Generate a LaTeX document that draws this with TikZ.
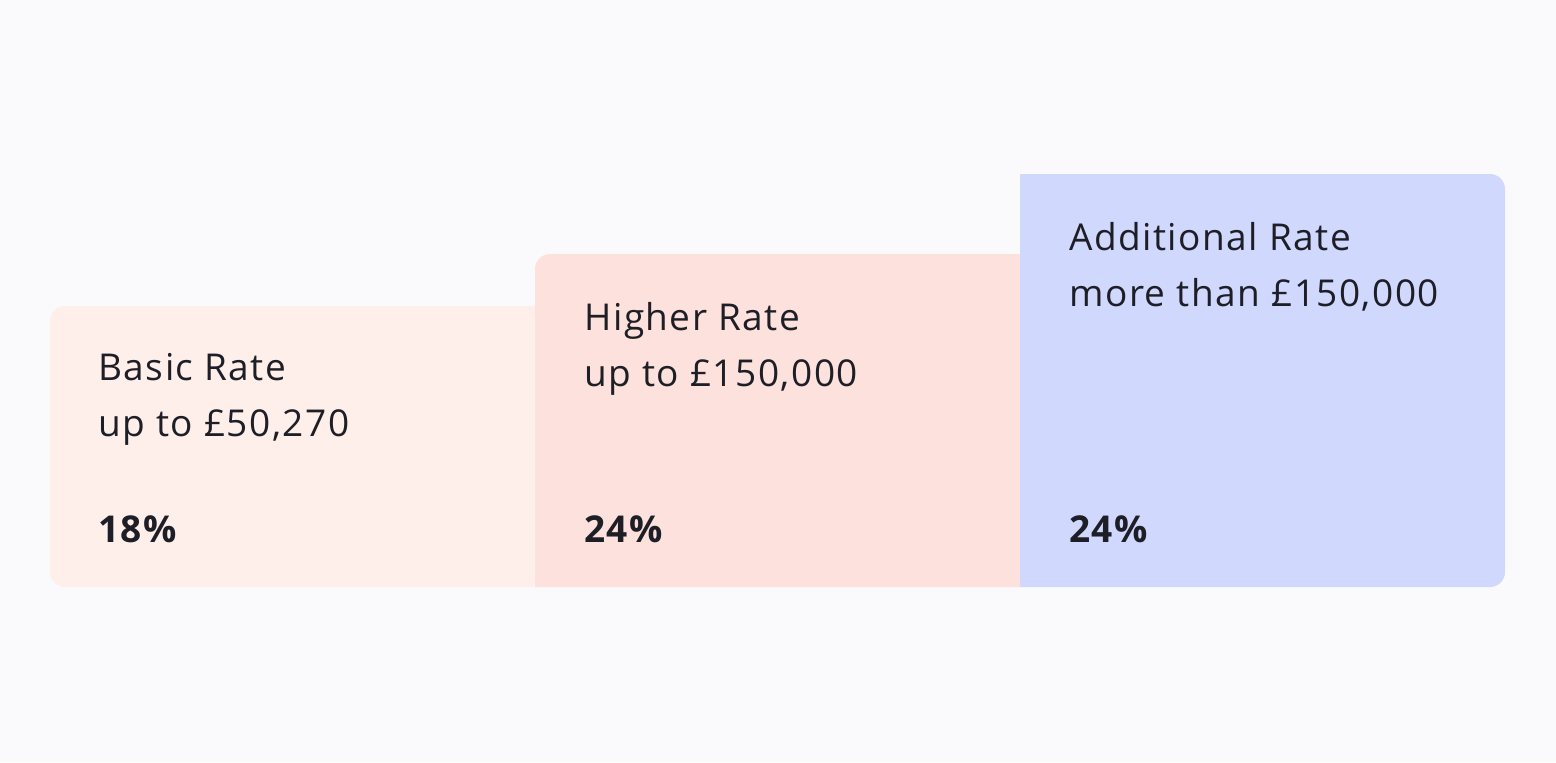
\documentclass[tikz,border=0pt]{standalone}
\usepackage{fontspec}
\setmainfont{Open Sans}[LetterSpace=4]
\usetikzlibrary{positioning}
\definecolor{pagecolor}{RGB}{250, 250, 253}
\definecolor{basiccolor}{RGB}{254, 239, 235}
\definecolor{highercolor}{RGB}{253, 225, 220}
\definecolor{addcolor}{RGB}{208, 216, 254}
\definecolor{inkcolor}{RGB}{30, 30, 38}

\begin{document}
\begin{tikzpicture}[x=0.5pt, y=-0.5pt,
        label text/.style={anchor=base west,
                           inner sep=0pt,
                           text=inkcolor,
                           font=\fontsize{18.5}{28}\selectfont},
        rate text/.style={label text,
                          font=\fontsize{18.5}{28}\selectfont\bfseries}]
        \fill[pagecolor] (0,0) rectangle (1556,762);
        \useasboundingbox (0,0) rectangle (1556,762);
        % bands
        \fill[basiccolor] (535,587) -- (535,306)
              [rounded corners=7.5pt] -- (50,306) -- (50,587)
              [sharp corners] -- cycle;
        \fill[highercolor] (1020,587) -- (1020,254)
              [rounded corners=7.5pt] -- (535,254)
              [sharp corners] -- (535,587) -- cycle;
        \fill[addcolor] (1020,587) -- (1020,174)
              [rounded corners=7.5pt] -- (1505,174) -- (1505,587)
              [sharp corners] -- cycle;
        % labels
        \node[label text] (basic) at (98,380) {Basic Rate};
        \node[label text] (basiclimit) at (98,436) {up to £50,270};
        \node[rate text] (basicrate) at (98,542) {18\%};
        \node[label text] (higher) at (584,330) {Higher Rate};
        \node[label text] (higherlimit) at (584,386) {up to £150,000};
        \node[rate text] (higherrate) at (584,542) {24\%};
        \node[label text] (add) at (1069,250) {Additional Rate};
        \node[label text] (addlimit) at (1069,306) {more than £150,000};
        \node[rate text] (addrate) at (1069,542) {24\%};
    \end{tikzpicture}
\end{document}
